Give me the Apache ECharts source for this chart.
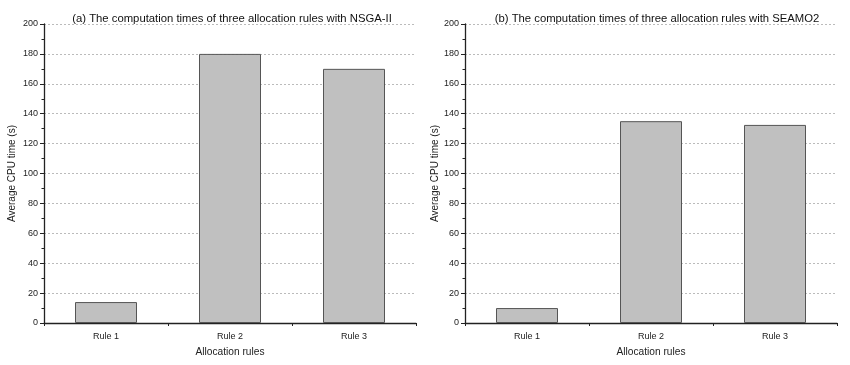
<!DOCTYPE html>
<html><head><meta charset="utf-8">
<script src="https://cdn.jsdelivr.net/npm/echarts@6/dist/echarts.min.js"></script>
<style>html,body{margin:0;padding:0;background:#fff}#c{width:850px;height:365px}</style>
</head><body><div id="c"></div>
<script>
const categories = ['Rule 1', 'Rule 2', 'Rule 3'];
const nsga2Times = [14, 180, 170];
const seamo2Times = [10, 135, 132.5];
const titles = ['(a) The computation times of three allocation rules with NSGA-II',
                '(b) The computation times of three allocation rules with SEAMO2'];
const yName = 'Average CPU time (s)';
const xName = 'Allocation rules';

const FONT = '"Liberation Sans", Arial, sans-serif';
const chart = echarts.init(document.getElementById('c'));
const grids = [
  {left: 44, top: 24, width: 372, height: 299},
  {left: 465, top: 24, width: 372, height: 299}
];
const titleCenters = [227, 652];
const yNameGaps = [27, 20];
const seriesData = [nsga2Times, seamo2Times];
const option = {
  animation: false,
  backgroundColor: '#fff',
  title: titles.map((t, i) => ({
    text: t, left: titleCenters[i], top: 8, textAlign: 'center',
    textStyle: {fontFamily: FONT, fontSize: 11.3, fontWeight: 'normal', color: '#111'}
  })),
  grid: grids,
  xAxis: [],
  yAxis: [],
  series: []
};
for (let i = 0; i < 2; i++) {
  option.xAxis.push({
    type: 'category', data: categories, gridIndex: i,
    name: xName, nameLocation: 'middle', nameGap: 24,
    nameTextStyle: {fontFamily: FONT, fontSize: 10.2, color: '#222'},
    axisLine: {lineStyle: {color: '#222', width: 1.3}},
    axisTick: {alignWithLabel: true, length: 4, lineStyle: {color: '#222'}},
    axisLabel: {fontFamily: FONT, fontSize: 9, color: '#222', margin: 9},
    splitLine: {show: false}
  });
  option.xAxis.push({
    type: 'category', data: categories, gridIndex: i, position: 'bottom',
    axisLine: {show: false},
    axisTick: {show: true, length: 3, lineStyle: {color: '#222'}},
    axisLabel: {show: false}, splitLine: {show: false}
  });
  option.yAxis.push({
    type: 'value', gridIndex: i, min: 0, max: 200, interval: 20,
    name: yName, nameLocation: 'middle', nameGap: yNameGaps[i],
    nameTextStyle: {fontFamily: FONT, fontSize: 10, color: '#222'},
    axisLine: {show: true, lineStyle: {color: '#222', width: 1.3}},
    axisTick: {show: true, length: 4, lineStyle: {color: '#222'}},
    minorTick: {show: true, splitNumber: 2, length: 2.5, lineStyle: {color: '#222'}},
    axisLabel: {fontFamily: FONT, fontSize: 9, color: '#222', margin: 6,
      showMaxLabel: true},
    splitLine: {show: true, lineStyle: {color: '#bbb', type: [2, 2], width: 1}},
    minorSplitLine: {show: false}
  });
  option.series.push({
    type: 'bar', xAxisIndex: i * 2, yAxisIndex: i, data: seriesData[i],
    barWidth: '50%',
    itemStyle: {color: '#c0c0c0', borderColor: '#555', borderWidth: 1}
  });
}
chart.setOption(option);
</script></body></html>
